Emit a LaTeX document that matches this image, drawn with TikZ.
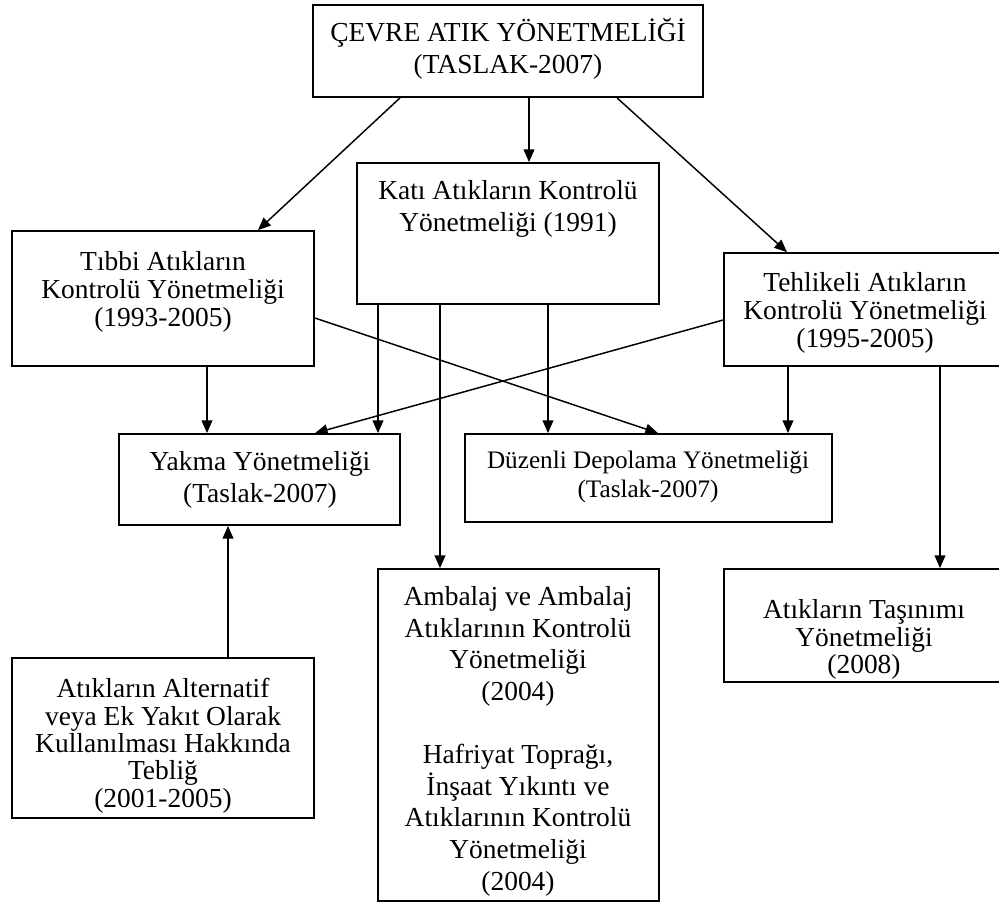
\documentclass[tikz,border=0pt]{standalone}
\usepackage{fontspec}
\setmainfont{Liberation Serif}
\usetikzlibrary{arrows.meta}
\newcommand{\mystrut}{\rule{0pt}{0.891em}}
\begin{document}
\begin{tikzpicture}[x=0.75pt,y=-0.75pt,
  box/.style={draw, line width=1.3pt, inner sep=0pt},
  txt/.style={inner sep=0pt, align=center, anchor=north,
    font=\fontsize{20.6pt}{23.7pt}\selectfont},
  tighttxt/.style={inner sep=0pt, align=center, anchor=north,
    font=\fontsize{20.6pt}{21pt}\selectfont},
  tightesttxt/.style={inner sep=0pt, align=center, anchor=north,
    font=\fontsize{20.6pt}{20.5pt}\selectfont},
  smalltxt/.style={inner sep=0pt, align=center, anchor=north,
    font=\fontsize{18.9pt}{21.7pt}\selectfont},
  conn/.style={line width=1.1pt, -{Triangle[length=9.5pt,width=8pt]}}]
\useasboundingbox (0,0) rectangle (999,910);
\clip (0,0) rectangle (999,910);
\fill[white] (0,0) rectangle (999,910);
% boxes
\node[box, minimum width=292.5pt, minimum height=69pt] (top) at (508,51) {};
\node[box, minimum width=226.5pt, minimum height=105.75pt] (kati) at (508,233.5) {};
\node[box, minimum width=226.5pt, minimum height=101.25pt] (tibbi) at (163,298.5) {};
\node[box, minimum width=211.5pt, minimum height=84.75pt] (tehlike) at (865,309.5) {};
\node[box, minimum width=210.75pt, minimum height=68.25pt] (yakma) at (259.5,479.5) {};
\node[box, minimum width=275.25pt, minimum height=66pt] (duzenli) at (648.5,478) {};
\node[box, minimum width=210.75pt, minimum height=249pt] (ambalaj) at (518.5,735) {};
\node[box, minimum width=210pt, minimum height=84.75pt] (tasinim) at (864,625.5) {};
\node[box, minimum width=226.5pt, minimum height=120pt] (alt) at (163,738) {};
% texts
\node[txt] (topT) at (508,17) {\mystrut ÇEVRE ATIK YÖNETMELİĞİ\\(TASLAK-2007)};
\node[txt] (katiT) at (508,175) {\mystrut Katı Atıkların Kontrolü\\Yönetmeliği (1991)};
\node[tighttxt] (tibbiT) at (163,246) {\mystrut Tıbbi Atıkların\\Kontrolü Yönetmeliği\\(1993-2005)};
\node[tighttxt] (tehlikeT) at (865,267) {\mystrut Tehlikeli Atıkların\\Kontrolü Yönetmeliği\\(1995-2005)};
\node[txt] (yakmaT) at (260,446) {\mystrut Yakma Yönetmeliği\\(Taslak-2007)};
\node[smalltxt] (duzenliT) at (648,446) {\mystrut Düzenli Depolama Yönetmeliği\\(Taslak-2007)};
\node[txt] (ambalajT) at (518,581) {\mystrut Ambalaj ve Ambalaj\\Atıklarının Kontrolü\\Yönetmeliği\\(2004)\\~\\Hafriyat Toprağı,\\İnşaat Yıkıntı ve\\Atıklarının Kontrolü\\Yönetmeliği\\(2004)};
\node[tightesttxt] (tasinimT) at (864,594) {\mystrut Atıkların Taşınımı\\Yönetmeliği\\(2008)};
\node[tightesttxt] (altT) at (163,673) {\mystrut Atıkların Alternatif\\veya Ek Yakıt Olarak\\Kullanılması Hakkında\\Tebliğ\\(2001-2005)};
% connectors
\draw[conn] (top.south -| 400,0) -- (tibbi.north -| 258,0);
\draw[conn] (top.south -| 529,0) -- (kati.north -| 529,0);
\draw[conn] (top.south -| 617,0) -- (tehlike.north -| 787,0);
\draw[conn] (kati.south -| 378,0) -- (yakma.north -| 378,0);
\draw[conn] (kati.south -| 440,0) -- (ambalaj.north -| 440,0);
\draw[conn] (kati.south -| 548,0) -- (duzenli.north -| 548,0);
\draw[conn] (tibbi.south -| 207,0) -- (yakma.north -| 207,0);
\draw[conn] (tibbi.east |- 0,318) -- (duzenli.north -| 658,0);
\draw[conn] (tehlike.west |- 0,320) -- (yakma.north -| 315,0);
\draw[conn] (tehlike.south -| 788,0) -- (duzenli.north -| 788,0);
\draw[conn] (tehlike.south -| 940,0) -- (tasinim.north -| 940,0);
\draw[conn] (alt.north -| 228,0) -- (yakma.south -| 228,0);
\end{tikzpicture}
\end{document}
